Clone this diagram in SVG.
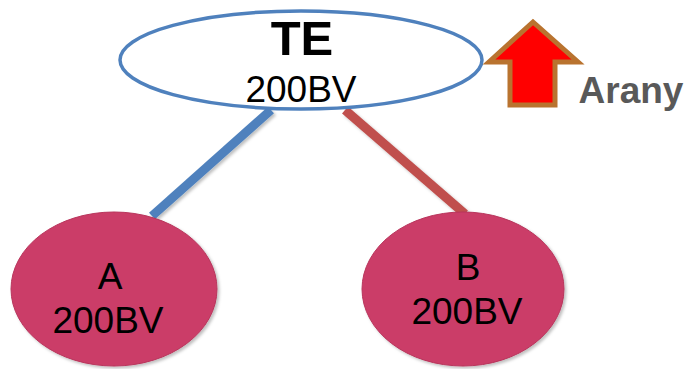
<svg xmlns="http://www.w3.org/2000/svg" width="689" height="369" viewBox="0 0 689 369">
<defs>
<style>
.t{font-family:"Liberation Sans",Arial,sans-serif;fill:#000;text-anchor:middle}
.node{fill:#CB3D67;stroke:#B8355C;stroke-width:1}
.lbl{font-size:37px}
</style>
<filter id="sh" x="-20%" y="-20%" width="140%" height="140%">
<feDropShadow dx="2" dy="2" stdDeviation="1.5" flood-color="#000" flood-opacity="0.25"/>
</filter>
</defs>
<rect width="689" height="369" fill="#fff"/>
<g id="connectors" filter="url(#sh)">
<line x1="271" y1="110" x2="152" y2="216" stroke="#4F81BD" stroke-width="9"/>
<line x1="345" y1="110" x2="465" y2="214" stroke="#C0504D" stroke-width="9"/>
</g>
<g id="TE">
<ellipse cx="301" cy="60" rx="181" ry="49" fill="#fff" stroke="#4F81BD" stroke-width="3.5"/>
<text class="t" x="302" y="55" font-size="49" font-weight="bold">TE</text>
<text class="t lbl" x="301" y="102">200BV</text>
</g>
<g id="A">
<ellipse class="node" cx="114" cy="289" rx="103" ry="77" filter="url(#sh)"/>
<text class="t lbl" x="110" y="289">A</text>
<text class="t lbl" x="108" y="333">200BV</text>
</g>
<g id="B">
<ellipse class="node" cx="463" cy="289" rx="101" ry="77" filter="url(#sh)"/>
<text class="t lbl" x="468" y="280">B</text>
<text class="t lbl" x="467" y="324">200BV</text>
</g>
<g id="arrow">
<path d="M533,22 L489,62 L510,62 L510,105 L555,105 L555,62 L578,62 Z" fill="#FF0000" stroke="#B9732F" stroke-width="5" stroke-linejoin="miter"/>
</g>
<g id="arany">
<text x="631" y="103" font-family="'Liberation Sans',Arial,sans-serif" font-size="37" font-weight="bold" fill="#595959" text-anchor="middle">Arany</text>
</g>
</svg>
